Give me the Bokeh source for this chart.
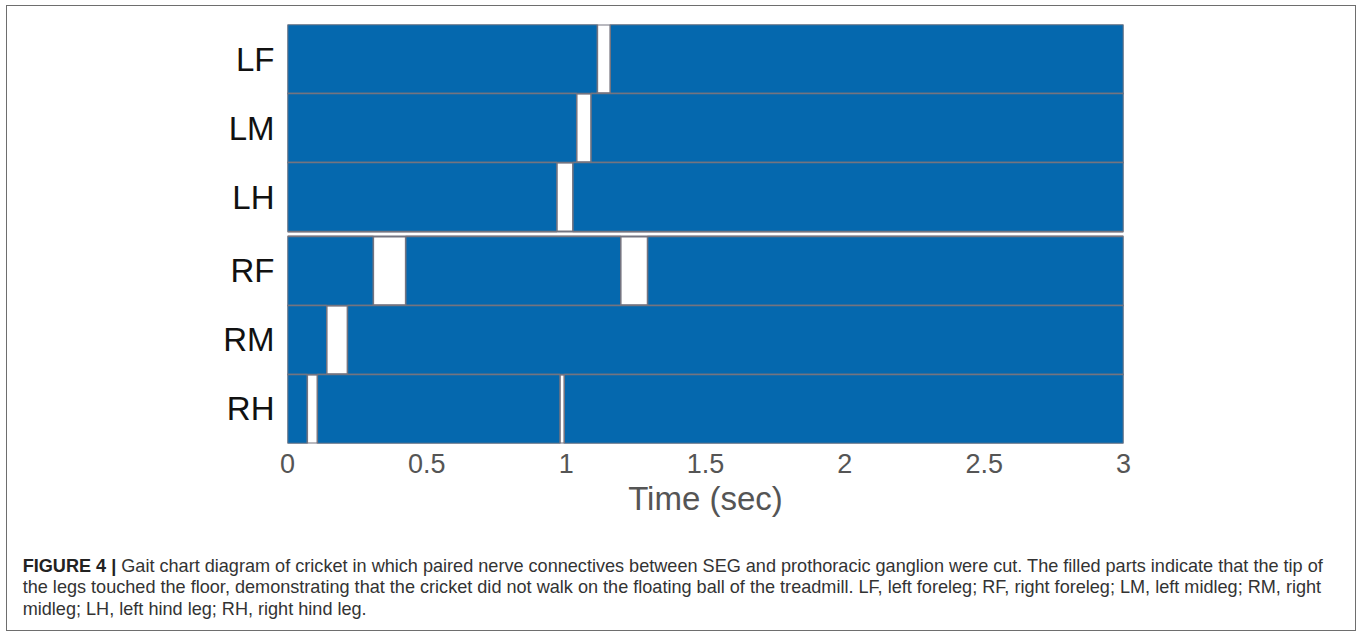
from bokeh.plotting import figure
from bokeh.models import Range1d, FixedTicker, Div
from bokeh.layouts import column
from bokeh.embed import file_html
from bokeh.resources import INLINE

# ---------------- data ----------------
legs = ["LF", "LM", "LH", "RF", "RM", "RH"]          # top to bottom
left_group = ["LF", "LM", "LH"]
# swing phases (legs off the floor), seconds
swing = {
    "LF": [(1.112, 1.158)],
    "LM": [(1.038, 1.089)],
    "LH": [(0.967, 1.024)],
    "RF": [(0.308, 0.424), (1.196, 1.292)],
    "RM": [(0.141, 0.215)],
    "RH": [(0.071, 0.107), (0.978, 0.993)],
}
t_start, t_end = 0.0, 3.0
x_ticks = [0, 0.5, 1, 1.5, 2, 2.5, 3]
x_tick_labels = ["0", "0.5", "1", "1.5", "2", "2.5", "3"]
x_label = "Time (sec)"
caption_bold = "FIGURE 4 |"
caption_lines = [
    "Gait chart diagram of cricket in which paired nerve connectives between SEG and prothoracic ganglion were cut. The filled parts indicate that the tip of",
    "the legs touched the floor, demonstrating that the cricket did not walk on the floating ball of the treadmill. LF, left foreleg; RF, right foreleg; LM, left midleg; RM, right",
    "midleg; LH, left hind leg; RH, right hind leg.",
]

# ---------------- styling / geometry ----------------
BLUE = "#0568ae"
GRID = "#747480"
FONT = "Liberation Sans"
W, H = 1348, 530
CAP_H = 94
MB_L, MB_R, MB_T, MB_B = 280, 232, 18, 93
group_gap = 0.072

row_bottom = {}
for i, leg in enumerate(reversed(legs)):
    row_bottom[leg] = i + (group_gap if leg in left_group else 0.0)
y_top = max(row_bottom.values()) + 1

# stance = complement of swing within [t_start, t_end]
st_l, st_r, st_b, st_t = [], [], [], []
bg_l, bg_r, bg_b, bg_t = [], [], [], []
for leg in legs:
    b = row_bottom[leg]
    bg_l.append(t_start); bg_r.append(t_end); bg_b.append(b); bg_t.append(b + 1)
    cur = t_start
    for s0, s1 in swing[leg]:
        st_l.append(cur); st_r.append(s0); st_b.append(b); st_t.append(b + 1)
        cur = s1
    st_l.append(cur); st_r.append(t_end); st_b.append(b); st_t.append(b + 1)

p = figure(width=W, height=H, output_backend="svg", toolbar_location=None,
           x_range=Range1d(t_start, t_end), y_range=Range1d(0, y_top),
           min_border_left=MB_L, min_border_right=MB_R, min_border_top=MB_T, min_border_bottom=MB_B)
p.outline_line_color = None
p.grid.visible = False
p.background_fill_color = "white"
p.border_fill_color = "white"

p.quad(left=bg_l, right=bg_r, bottom=bg_b, top=bg_t, fill_color="white",
       line_color=GRID, line_width=1.8)
p.quad(left=st_l, right=st_r, bottom=st_b, top=st_t, fill_color=BLUE,
       line_color=GRID, line_width=1.6)

ax = p.xaxis[0]
ax.ticker = FixedTicker(ticks=x_ticks)
ax.major_label_overrides = {t: lab for t, lab in zip(x_ticks, x_tick_labels)}
ax.axis_line_color = None
ax.major_tick_line_color = None
ax.minor_tick_line_color = None
ax.major_tick_out = 0
ax.major_tick_in = 0
ax.major_label_standoff = 10
ax.major_label_text_font = FONT
ax.major_label_text_font_size = "27px"
ax.major_label_text_color = "#555555"
ax.axis_label = x_label
ax.axis_label_text_font = FONT
ax.axis_label_text_font_size = "33px"
ax.axis_label_text_font_style = "normal"
ax.axis_label_text_color = "#555555"
ax.axis_label_standoff = 4

# leg names on the y axis
yax = p.yaxis[0]
centers = [row_bottom[leg] + 0.5 for leg in legs]
yax.ticker = FixedTicker(ticks=centers)
yax.major_label_overrides = {c: leg for c, leg in zip(centers, legs)}
yax.axis_line_color = None
yax.major_tick_line_color = None
yax.minor_tick_line_color = None
yax.major_tick_out = 0
yax.major_tick_in = 0
yax.major_label_standoff = 13
yax.major_label_text_font = FONT
yax.major_label_text_font_size = "33px"
yax.major_label_text_color = "#111111"

# caption
cap_html = (
    '<div style="margin:14.5px 0 0 10.7px; font-family:\'Liberation Sans\', Arial, sans-serif; '
    'font-size:18.1px; line-height:21.5px; color:#333333; white-space:nowrap;">'
    f'<b style="color:#222222">{caption_bold}</b> {caption_lines[0]}<br>'
    f'{caption_lines[1]}<br>{caption_lines[2]}</div>'
)
cap = Div(text=cap_html, width=W, height=CAP_H)

layout = column(p, cap, spacing=0, width=W, height=H + CAP_H, sizing_mode="fixed")
layout.styles = {"outline": "1.5px solid #6e6e6e", "margin-left": "7px", "margin-top": "6px"}

open("out.html", "w").write(file_html(layout, INLINE))
